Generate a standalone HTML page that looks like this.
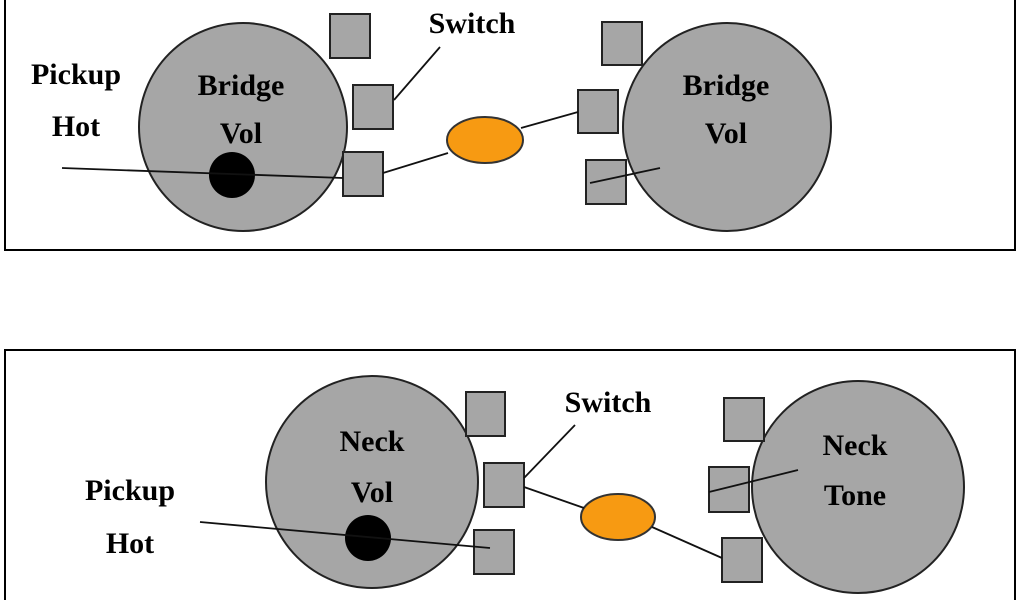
<!DOCTYPE html>
<html><head><style>body{margin:0;background:#fff}svg{display:block}</style></head><body>
<svg width="1024" height="600" xmlns="http://www.w3.org/2000/svg" font-family="Liberation Serif, serif" font-weight="bold" font-size="30">
<rect x="5" y="-10" width="1010" height="260" fill="none" stroke="#000" stroke-width="2"/>
<rect x="5" y="350" width="1010" height="270" fill="none" stroke="#000" stroke-width="2"/>
<g fill="#a6a6a6" stroke="#222" stroke-width="2">
<circle cx="243" cy="127" r="104"/>
<circle cx="727" cy="127" r="104"/>
<circle cx="372" cy="482" r="106"/>
<circle cx="858" cy="487" r="106"/>
<rect x="330" y="14" width="40" height="44"/>
<rect x="353" y="85" width="40" height="44"/>
<rect x="343" y="152" width="40" height="44"/>
<rect x="602" y="22" width="40" height="43"/>
<rect x="578" y="90" width="40" height="43"/>
<rect x="586" y="160" width="40" height="44"/>
<rect x="466" y="392" width="39" height="44"/>
<rect x="484" y="463" width="40" height="44"/>
<rect x="474" y="530" width="40" height="44"/>
<rect x="724" y="398" width="40" height="43"/>
<rect x="709" y="467" width="40" height="45"/>
<rect x="722" y="538" width="40" height="44"/>
</g>
<g fill="#f79a12" stroke="#333" stroke-width="2">
<ellipse cx="485" cy="140" rx="38" ry="23"/>
<ellipse cx="618" cy="517" rx="37" ry="23"/>
</g>
<circle cx="232" cy="175" r="23" fill="#000"/>
<circle cx="368" cy="538" r="23" fill="#000"/>
<g stroke="#111" stroke-width="1.8">
<line x1="62" y1="168" x2="343" y2="178"/>
<line x1="383" y1="173" x2="448" y2="153"/>
<line x1="521" y1="128" x2="578" y2="112"/>
<line x1="590" y1="183" x2="660" y2="168"/>
<line x1="440" y1="47" x2="394" y2="100"/>
<line x1="200" y1="522" x2="490" y2="548"/>
<line x1="524" y1="487" x2="584" y2="508"/>
<line x1="652" y1="527" x2="722" y2="558"/>
<line x1="709" y1="492" x2="798" y2="470"/>
<line x1="575" y1="425" x2="524" y2="478"/>
</g>
<g fill="#000" text-anchor="middle">
<text x="472" y="33">Switch</text>
<text x="76" y="84">Pickup</text>
<text x="76" y="136">Hot</text>
<text x="241" y="95">Bridge</text>
<text x="241" y="143">Vol</text>
<text x="726" y="95">Bridge</text>
<text x="726" y="143">Vol</text>
<text x="608" y="412">Switch</text>
<text x="130" y="500">Pickup</text>
<text x="130" y="553">Hot</text>
<text x="372" y="451">Neck</text>
<text x="372" y="502">Vol</text>
<text x="855" y="455">Neck</text>
<text x="855" y="505">Tone</text>
</g>
</svg>
</body></html>
